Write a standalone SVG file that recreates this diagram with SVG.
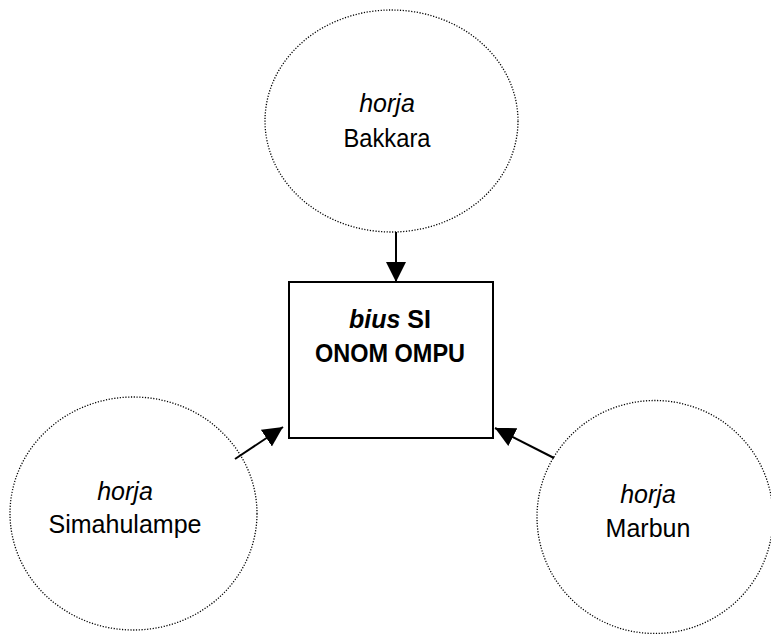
<svg xmlns="http://www.w3.org/2000/svg" width="771" height="634" viewBox="0 0 771 634">
  <style>
    .horja { fill: none; stroke: #000; stroke-width: 1.3; stroke-dasharray: 1.2 1.6; }
    .box { fill: #fff; stroke: #000; stroke-width: 2; }
    .lbl { font-family: "Liberation Sans", Arial, sans-serif; font-size: 25px; fill: #000; text-anchor: middle; }
    .it { font-style: italic; }
    .b { font-weight: bold; }
    .link { stroke: #000; stroke-width: 2; fill: none; marker-end: url(#head); }
  </style>
  <defs>
    <marker id="head" markerUnits="userSpaceOnUse" markerWidth="22" markerHeight="22" refX="20" refY="10" orient="auto" viewBox="0 0 22 22">
      <path d="M0,0 L20,10 L0,20 z" fill="#000"/>
    </marker>
  </defs>
  <rect width="771" height="634" fill="#fff"/>

  <g id="node-bakkara">
    <ellipse class="horja" cx="391.5" cy="121" rx="126.5" ry="111"/>
    <text class="lbl it" x="387" y="112">horja</text>
    <text class="lbl" x="387" y="147" textLength="87" lengthAdjust="spacingAndGlyphs">Bakkara</text>
  </g>

  <g id="node-bius">
    <rect class="box" x="289" y="282" width="204" height="156"/>
    <text class="lbl b" x="390" y="328"><tspan class="it">bius</tspan> SI</text>
    <text class="lbl b" x="390" y="362" textLength="150" lengthAdjust="spacingAndGlyphs">ONOM OMPU</text>
  </g>

  <g id="node-simahulampe">
    <ellipse class="horja" cx="133.5" cy="513.5" rx="123.5" ry="116.5"/>
    <text class="lbl it" x="125" y="500">horja</text>
    <text class="lbl" x="125" y="533" textLength="153" lengthAdjust="spacingAndGlyphs">Simahulampe</text>
  </g>

  <g id="node-marbun">
    <ellipse class="horja" cx="655" cy="517" rx="118" ry="116.5"/>
    <text class="lbl it" x="648" y="503">horja</text>
    <text class="lbl" x="648" y="537">Marbun</text>
  </g>

  <g id="connectors">
    <line class="link" x1="396" y1="232" x2="396" y2="282"/>
    <line class="link" x1="235" y1="459" x2="283" y2="427"/>
    <line class="link" x1="554" y1="458" x2="495" y2="428"/>
  </g>
</svg>
